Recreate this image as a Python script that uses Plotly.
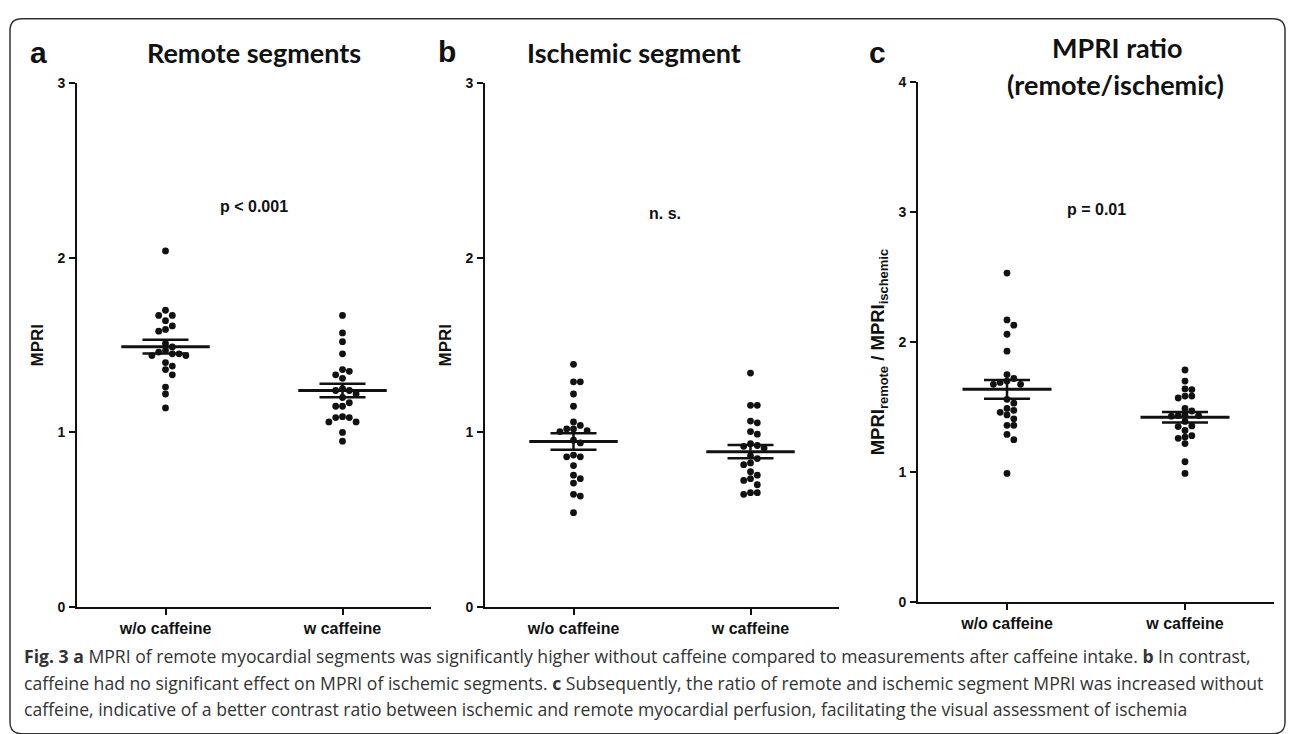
import numpy as np
import plotly.graph_objects as go

# ---------------- data ----------------
categories = ["w/o caffeine", "w caffeine"]

remote_wo = [2.04, 1.70, 1.67, 1.67, 1.64, 1.61, 1.59, 1.58, 1.51, 1.49, 1.47, 1.46,
             1.45, 1.45, 1.44, 1.44, 1.40, 1.38, 1.36, 1.33, 1.26, 1.22, 1.14]
remote_w = [1.67, 1.57, 1.52, 1.45, 1.36, 1.35, 1.33, 1.31, 1.25, 1.24, 1.24, 1.22,
            1.20, 1.17, 1.15, 1.15, 1.09, 1.085, 1.085, 1.06, 1.06, 1.00, 0.95]

isch_wo = [1.39, 1.29, 1.29, 1.22, 1.15, 1.06, 1.04, 1.02, 1.02, 1.01, 1.005, 0.955,
           0.94, 0.87, 0.86, 0.86, 0.81, 0.755, 0.735, 0.71, 0.645, 0.635, 0.54]
isch_w = [1.34, 1.155, 1.155, 1.065, 1.055, 1.005, 0.99, 0.935, 0.925, 0.92, 0.91, 0.865,
          0.85, 0.825, 0.815, 0.775, 0.755, 0.735, 0.725, 0.70, 0.655, 0.655, 0.645]

ratio_wo = [2.53, 2.17, 2.13, 2.06, 1.93, 1.75, 1.72, 1.70, 1.69, 1.675, 1.675, 1.56,
            1.53, 1.49, 1.475, 1.46, 1.44, 1.41, 1.36, 1.36, 1.29, 1.25, 0.99]
ratio_w = [1.785, 1.70, 1.64, 1.635, 1.585, 1.585, 1.57, 1.49, 1.47, 1.44, 1.435, 1.435,
           1.43, 1.39, 1.355, 1.35, 1.32, 1.28, 1.27, 1.26, 1.22, 1.08, 0.99]

panel_letters = ["a", "b", "c"]
panel_titles = [["Remote segments"], ["Ischemic segment"], ["MPRI ratio", "(remote/ischemic)"]]
p_labels = ["p < 0.001", "n. s.", "p = 0.01"]
y_titles = ["MPRI", "MPRI", "MPRI<sub>remote</sub> / MPRI<sub>ischemic</sub>"]
y_max = [3, 3, 4]

caption_lines = [
    "<b>Fig. 3 a</b> MPRI of remote myocardial segments was significantly higher without caffeine compared to measurements after caffeine intake. <b>b</b> In contrast,",
    "caffeine had no significant effect on MPRI of ischemic segments. <b>c</b> Subsequently, the ratio of remote and ischemic segment MPRI was increased without",
    "caffeine, indicative of a better contrast ratio between ischemic and remote myocardial perfusion, facilitating the visual assessment of ischemia",
]

groups = [(remote_wo, remote_w), (isch_wo, isch_w), (ratio_wo, ratio_w)]

# ---------------- layout geometry (pixels) ----------------
W, H = 1290, 734
x_px = [(77, 431), (485, 839), (918, 1274)]
y_px = [(612.3, 77), (612.3, 77), (607.5, 75.5)]  # (bottom, top)

ARIAL = "Arial, Liberation Sans, sans-serif"
TITLE_FONT = "Lato, Open Sans, sans-serif"
CAP_FONT = "Open Sans, Noto Sans, sans-serif"
INK = "#111111"


def swarm(vals, ppu_x, ppu_y, d=6.8):
    vals = np.asarray(vals, float)
    order = np.argsort(-vals, kind="stable")
    placed = []
    offs = np.zeros(len(vals))
    cands = [0]
    for k in range(1, 8):
        cands += [k, -k]
    for i in order:
        y = vals[i] * ppu_y
        for c in cands:
            x = c * d
            if all((x - px) ** 2 + (y - py) ** 2 >= (d * 0.97) ** 2 for px, py in placed):
                break
        placed.append((x, y))
        offs[i] = x / ppu_x
    return offs


fig = go.Figure()
layout = {}
annotations = []

for p in range(3):
    sfx = "" if p == 0 else str(p + 1)
    xa, ya = "x" + sfx, "y" + sfx
    x0, x1 = x_px[p]
    yb, yt = y_px[p]
    ppu_x = (x1 - x0) / 2.0
    ppu_y = (yb - yt) / y_max[p]

    for ci, vals in enumerate(groups[p]):
        offs = swarm(vals, ppu_x, ppu_y)
        fig.add_trace(go.Scatter(
            x=ci + offs, y=vals, mode="markers", xaxis=xa, yaxis=ya,
            marker=dict(size=6.8, color=INK), showlegend=False, hoverinfo="y"))
        arr = np.asarray(vals, float)
        m = arr.mean()
        sem = arr.std(ddof=1) / np.sqrt(len(arr))
        fig.add_trace(go.Scatter(
            x=[ci - 0.25, ci + 0.25], y=[m, m], mode="lines", xaxis=xa, yaxis=ya,
            line=dict(color=INK, width=3), showlegend=False, hoverinfo="skip"))
        fig.add_trace(go.Scatter(
            x=[ci], y=[m], mode="markers", xaxis=xa, yaxis=ya,
            marker=dict(size=1, color="rgba(0,0,0,0)"),
            error_y=dict(type="data", array=[sem], visible=True, width=23,
                         thickness=2.5, color=INK),
            showlegend=False, hoverinfo="skip"))

    layout["xaxis" + sfx] = dict(
        domain=[x0 / W, x1 / W], range=[-0.5, 1.5], anchor=ya,
        tickmode="array", tickvals=[0, 1], ticktext=categories,
        showline=True, linecolor=INK, linewidth=2,
        ticks="outside", ticklen=6, tickwidth=2, tickcolor=INK,
        showgrid=False, zeroline=False, fixedrange=True,
        tickfont=dict(family=ARIAL, size=16, color=INK, weight="bold"))
    layout["yaxis" + sfx] = dict(
        domain=[1 - yb / H, 1 - yt / H], range=[0, y_max[p]], anchor=xa,
        tickmode="linear", tick0=0, dtick=1,
        showline=True, linecolor=INK, linewidth=2,
        ticks="outside", ticklen=6, tickwidth=2, tickcolor=INK,
        showgrid=False, zeroline=False, fixedrange=True, ticklabelstandoff=1,
        tickfont=dict(family=ARIAL, size=14, color=INK, weight="bold"))

# panel letters, titles, p-values, y-titles (pixel positions)
letter_pos = [(38, 45), (447, 44), (877, 45)]
title_pos = [[(254, 45)], [(634, 45)], [(1117, 40), (1115, 78)]]
p_pos = [(254, 203), (665, 210), (1096, 206)]
ytitle_pos = [(37, 345), (445, 345), (879, 352)]
ytitle_size = [17, 17, 18.5]

for p in range(3):
    annotations.append(dict(
        x=letter_pos[p][0] / W, y=1 - letter_pos[p][1] / H, xref="paper", yref="paper",
        text="<b>%s</b>" % panel_letters[p], showarrow=False,
        font=dict(family=ARIAL, size=30, color=INK), xanchor="center", yanchor="middle"))
    for txt, pos in zip(panel_titles[p], title_pos[p]):
        annotations.append(dict(
            x=pos[0] / W, y=1 - pos[1] / H, xref="paper", yref="paper",
            text="<b>%s</b>" % txt, showarrow=False,
            font=dict(family=TITLE_FONT, size=27, color=INK),
            xanchor="center", yanchor="middle"))
    annotations.append(dict(
        x=p_pos[p][0] / W, y=1 - p_pos[p][1] / H, xref="paper", yref="paper",
        text="<b>%s</b>" % p_labels[p], showarrow=False,
        font=dict(family=ARIAL, size=16, color=INK), xanchor="center", yanchor="middle"))
    annotations.append(dict(
        x=ytitle_pos[p][0] / W, y=1 - ytitle_pos[p][1] / H, xref="paper", yref="paper",
        text="<b>%s</b>" % y_titles[p], showarrow=False, textangle=-90,
        font=dict(family=ARIAL, size=ytitle_size[p], color=INK),
        xanchor="center", yanchor="middle"))

cap_y = [662, 690, 717]
for line, yy in zip(caption_lines, cap_y):
    annotations.append(dict(
        x=22 / W, y=1 - yy / H, xref="paper", yref="paper", text=line, showarrow=False,
        font=dict(family=CAP_FONT, size=17.6, color="#333333"), xanchor="left",
        yanchor="middle", align="left"))

# rounded border
L, R, T, B = 10 / W, 1285 / W, 1 - 11 / H, 1 - 742 / H
rx, ry = 12 / W, 12 / H
path = (f"M {L+rx},{T} L {R-rx},{T} Q {R},{T} {R},{T-ry} L {R},{B+ry} Q {R},{B} {R-rx},{B} "
        f"L {L+rx},{B} Q {L},{B} {L},{B+ry} L {L},{T-ry} Q {L},{T} {L+rx},{T} Z")
shapes = [dict(type="path", xref="paper", yref="paper", path=path,
               line=dict(color="#333333", width=1.5))]

fig.update_layout(
    width=W, height=H, margin=dict(l=0, r=0, t=0, b=0),
    paper_bgcolor="white", plot_bgcolor="white",
    annotations=annotations, shapes=shapes, showlegend=False, **layout)

fig.write_html(
    "out.html",
    config={"displayModeBar": False},
    post_script="document.body.style.margin='0';document.body.style.padding='0';"
                "document.body.style.overflow='hidden';")
